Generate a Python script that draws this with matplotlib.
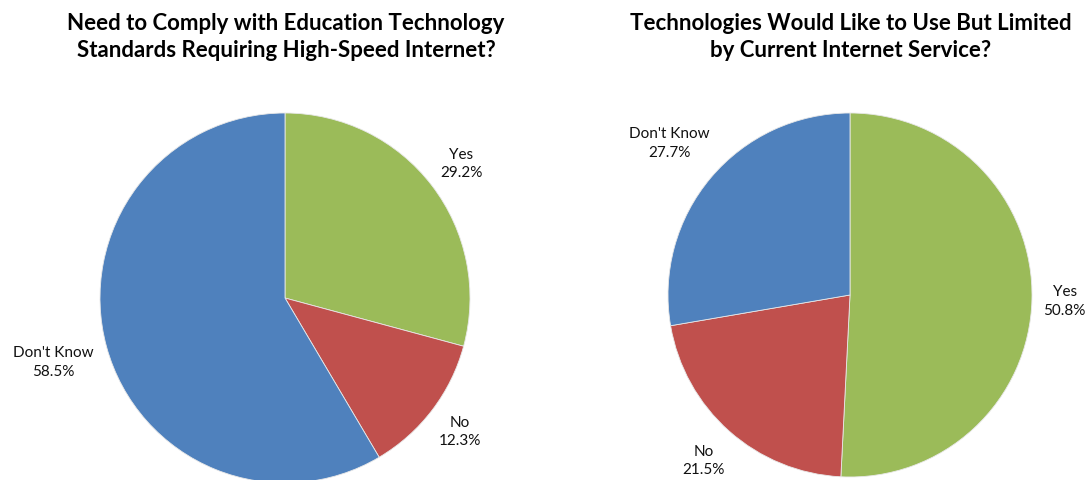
import numpy as np
import matplotlib.pyplot as plt

plt.rcParams['font.family'] = ['Lato', 'DejaVu Sans']

# survey answers, clockwise from 12 o'clock
labels = ['Yes', 'No', "Don't Know"]
comply = [29.2, 12.3, 58.5]
limited = [50.8, 21.5, 27.7]
colors = ['#9BBB59', '#C0504D', '#4F81BD']

title1 = 'Need to Comply with Education Technology\nStandards Requiring High-Speed Internet?'
title2 = 'Technologies Would Like to Use But Limited\nby Current Internet Service?'

W, H = 1091, 481
fig = plt.figure(figsize=(W / 100, H / 100), dpi=100)


def draw_pie(cx, cy, r, vals, dists):
    ax = fig.add_axes([(cx - r) / W, (H - cy - r) / H, 2 * r / W, 2 * r / H])
    wedges, _ = ax.pie(vals, colors=colors, startangle=90, counterclock=False,
                       wedgeprops=dict(edgecolor='#e8e8e8', linewidth=0.6))
    for w, lab, v, d in zip(wedges, labels, vals, dists):
        mid = np.deg2rad((w.theta1 + w.theta2) / 2)
        ax.text(d * np.cos(mid), d * np.sin(mid), f'{lab}\n{v:.1f}%',
                ha='center', va='center', fontsize=11, color='#111111',
                linespacing=1.4, clip_on=False)
    ax.set_xlim(-1, 1)
    ax.set_ylim(-1, 1)
    ax.set_aspect('equal')
    ax.axis('off')
    return ax


draw_pie(285, 299, 185, comply, [1.2, 1.19, 1.3])
draw_pie(850, 296, 182, limited, [1.18, 1.21, 1.3])

fig.text(286 / W, 1 - 37 / H, title1, ha='center', va='center',
         fontsize=16, fontweight='bold', linespacing=1.4)
fig.text(851 / W, 1 - 37 / H, title2, ha='center', va='center',
         fontsize=16, fontweight='bold', linespacing=1.4)

fig.savefig('out.png', dpi=100, facecolor='white')
